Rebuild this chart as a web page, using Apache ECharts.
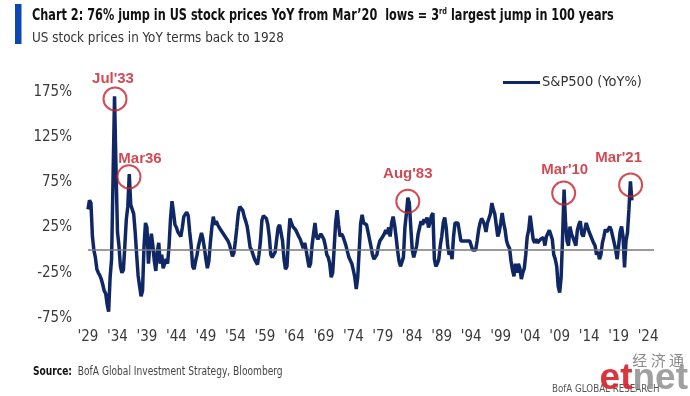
<!DOCTYPE html>
<html>
<head>
<meta charset="utf-8">
<script src="https://cdn.jsdelivr.net/npm/echarts@6/dist/echarts.min.js"></script>
<style>
html,body{margin:0;padding:0;background:#fff;}
#chart{width:690px;height:396px;}
</style>
</head>
<body>
<div id="chart"></div>
<script>
// ---- data ----
const seriesName = 'S&P500 (YoY%)';
const startYear = 1929;      // first observation
const stepYears = 0.25;      // quarterly observations
const yoyValues = [
  45, 55, 52, 15,      // 1929
  0, -8, -21, -25,     // 1930
  -28, -32, -38, -45,  // 1931
  -48, -60, -68, -30,  // 1932
  -10, 80, 170, 90,    // 1933
  20, 5, -18, -25,     // 1934
  -22, 5, 34, 48,      // 1935
  84, 50, 45, 40,      // 1936
  20, -5, -28, -40,    // 1937
  -51, -45, 4, 30,     // 1938
  25, -15, 5, 18,      // 1939
  5, -12, -23, -2,     // 1940
  8, -15, -5, -20,     // 1941
  -18, -10, -15, 5,    // 1942
  35, 54, 42, 28,      // 1943
  25, 20, 18, 15,      // 1944
  25, 37, 35, 42,      // 1945
  38, 20, 5, -18,      // 1946
  -21, -12, -5, 5,     // 1947
  12, 19, 12, 2,       // 1948
  -10, -20, -12, 8,    // 1949
  25, 37, 28, 32,      // 1950
  28, 25, 24, 20,      // 1951
  18, 15, 17, 10,      // 1952
  6, 0, -7, -3,        // 1953
  10, 25, 41, 48,      // 1954
  50, 44, 37, 32,      // 1955
  26, 15, 3, 0,        // 1956
  -5, -10, -8, -16,    // 1957
  -5, 10, 33, 38,      // 1958
  40, 35, 28, 15,      // 1959
  -5, -8, -10, -2,     // 1960
  12, 25, 28, 30,      // 1961
  10, -10, -21, -18,   // 1962
  12, 35, 30, 26,      // 1963
  25, 22, 20, 15,      // 1964
  12, 10, 2, 8,        // 1965
  0, -10, -19, -15,    // 1966
  5, 18, 30, 15,       // 1967
  12, 10, 18, 15,      // 1968
  12, 5, -5, -8,       // 1969
  -15, -30, -25, 2,    // 1970
  30, 44, 28, 15,      // 1971
  18, 15, 10, 5,       // 1972
  4, -8, -10, -15,     // 1973
  -22, -30, -43, -30,  // 1974
  0, 30, 39, 30,       // 1975
  32, 28, 26, 12,      // 1976
  4, -5, -10, -8,      // 1977
  -5, 4, 10, 12,       // 1978
  15, 18, 22, 18,      // 1979
  25, 15, 30, 37,      // 1980
  28, 15, 0, -12,      // 1981
  -18, -20, -8, 25,    // 1982
  40, 58, 52, 25,      // 1983
  0, -8, -10, 5,       // 1984
  18, 25, 32, 28,      // 1985
  34, 30, 36, 25,      // 1986
  30, 38, 41, -10,     // 1987
  -18, -15, -10, 5,    // 1988
  15, 30, 36, 25,      // 1989
  5, -5, 0, -10,       // 1990
  15, 30, 28, 30,      // 1991
  20, 10, 8, 10,       // 1992
  12, 10, 10, 10,      // 1993
  5, 0, -2, 0,         // 1994
  10, 22, 30, 35,      // 1995
  32, 28, 20, 30,      // 1996
  35, 40, 52, 45,      // 1997
  40, 38, 15, 20,      // 1998
  30, 41, 30, 22,      // 1999
  10, 5, 2, -12,       // 2000
  -22, -29, -15, -25,  // 2001
  -15, -20, -32, -25,  // 2002
  -20, -5, 15, 22,     // 2003
  38, 25, 12, 8,       // 2004
  12, 8, 10, 12,       // 2005
  10, 14, 5, 15,       // 2006
  15, 22, 20, 12,      // 2007
  -5, -10, -18, -40,   // 2008
  -47, -30, 15, 67,    // 2009
  30, 10, 5, 26,       // 2010
  18, 14, 12, 5,       // 2011
  22, 28, 32, 18,      // 2012
  15, 22, 30, 25,      // 2013
  20, 18, 12, 8,       // 2014
  5, -5, -2, -10,      // 2015
  -5, 8, 15, 23,       // 2016
  20, 18, 26, 22,      // 2017
  15, 8, 0, -10,       // 2018
  5, 20, 26, 15,       // 2019
  -19, 10, 19, 45,     // 2020
  76, 55               // 2021
];
const xTickYears = [1929,1934,1939,1944,1949,1954,1959,1964,1969,1974,1979,1984,1989,1994,1999,2004,2009,2014,2019,2024];
const yTickValues = [-75, -25, 25, 75, 125, 175];
const annoLabels = ["Jul'33", "Mar36", "Aug'83", "Mar'10", "Mar'21"];
const annoYears  = [1933.58, 1935.95, 1983.24, 2009.68, 2021.03];
const annoValues = [167, 81, 54, 63, 72];

// ---- presentation ----
const COND = "'DejaVu Sans Condensed',sans-serif";
const ARIAL = "'Liberation Sans',Arial,sans-serif";
const annoOffsets = [[-2,-20],[11,-18],[0,-27],[1,-23],[-12,-27]];
const lineData = yoyValues.map((v, i) => [startYear + i * stepYears, v]);
const annoData = annoLabels.map((t, i) => ({
  value: [annoYears[i], annoValues[i]],
  name: t,
  label: { offset: annoOffsets[i] }
}));

const chart = echarts.init(document.getElementById('chart'), null, { renderer: 'canvas' });
chart.setOption({
  animation: false,
  backgroundColor: '#fff',
  grid: { left: 88, right: 36, top: 91.7, bottom: 78 },
  legend: {
    data: [seriesName],
    left: 498, top: 70,
    icon: 'rect', itemWidth: 37, itemHeight: 3,
    textStyle: { fontFamily: COND, fontSize: 14.5, color: '#333', padding: [0,0,0,-3] }
  },
  xAxis: {
    type: 'value', min: 1929, max: 2025,
    axisLine: { show: false }, axisTick: { show: false }, splitLine: { show: false },
    axisLabel: {
      customValues: xTickYears,
      formatter: v => "'" + String(Math.round(v)).slice(2),
      fontFamily: COND, fontSize: 15, color: '#3a3a3a', margin: 12
    }
  },
  yAxis: {
    type: 'value', min: -75, max: 175,
    axisLine: { show: false }, axisTick: { show: false }, splitLine: { show: false },
    axisLabel: {
      customValues: yTickValues,
      formatter: '{value}%',
      fontFamily: COND, fontSize: 15, color: '#3a3a3a', margin: 16
    }
  },
  series: [
    {
      name: seriesName, type: 'line', data: lineData,
      showSymbol: false, symbol: 'none',
      lineStyle: { color: '#0f2765', width: 3.5 },
      itemStyle: { color: '#0f2765' },
      z: 3,
      markLine: {
        silent: true, symbol: 'none', label: { show: false },
        lineStyle: { color: '#7a7a7a', width: 1.5, type: 'solid' },
        data: [{ yAxis: 0 }]
      }
    },
    {
      name: 'annotations', type: 'scatter', data: annoData,
      symbol: 'circle', symbolSize: 23, z: 5,
      itemStyle: { color: 'rgba(0,0,0,0)', borderColor: '#c81e2a', borderWidth: 2 },
      label: {
        show: true, position: 'inside', formatter: p => p.name,
        fontFamily: ARIAL, fontWeight: 'bold', fontSize: 15, color: '#c41c28'
      }
    }
  ],
  graphic: [
    { type: 'rect', shape: { x: 15, y: 4, width: 6.5, height: 40 }, style: { fill: '#0b48b4' } },
    { type: 'text', x: 32, y: 16, scaleX: 0.81, style: {
        x: 0, y: 0, textVerticalAlign: 'middle',
        text: "{b|Chart 2: 76% jump in US stock prices YoY from Mar\u201920  lows = 3}{s|rd}{b| largest jump in 100 years}",
        rich: {
          b: { fontFamily: COND, fontWeight: 'bold', fontSize: 15.5, fill: '#111' },
          s: { fontFamily: COND, fontWeight: 'bold', fontSize: 9, fill: '#111', verticalAlign: 'top', padding: [0,0,8,0] }
        }
    } },
    { type: 'text', x: 32, y: 38, scaleX: 0.92, style: {
        x: 0, y: 0, textVerticalAlign: 'middle',
        text: 'US stock prices in YoY terms back to 1928',
        font: "14.5px 'DejaVu Sans Condensed',sans-serif", fill: '#333'
    } },
    { type: 'text', x: 33, y: 372, scaleX: 0.88, style: {
        x: 0, y: 0, textVerticalAlign: 'middle',
        text: '{b|Source:}{r|  BofA Global Investment Strategy, Bloomberg}',
        rich: {
          b: { fontFamily: COND, fontWeight: 'bold', fontSize: 11.5, fill: '#111' },
          r: { fontFamily: COND, fontSize: 11.5, fill: '#444' }
        }
    } },
    { type: 'text', x: 552, y: 389, scaleX: 0.88, style: {
        x: 0, y: 0, textVerticalAlign: 'middle',
        text: 'BofA GLOBAL RESEARCH',
        font: "11px 'DejaVu Sans Condensed',sans-serif", fill: '#555'
    } },
    { type: 'text', style: {
        x: 684, y: 360, textAlign: 'right', textVerticalAlign: 'middle',
        text: '经 济 通',
        font: "15px 'Noto Sans CJK SC',sans-serif", fill: '#8a8a8a'
    } },
    { type: 'text', style: {
        x: 688, y: 397, textAlign: 'right', textVerticalAlign: 'bottom',
        text: '{r|et}{g|net}',
        rich: {
          r: { fontFamily: ARIAL, fontWeight: 'bold', fontSize: 37, fill: 'rgba(214,36,44,0.92)' },
          g: { fontFamily: ARIAL, fontWeight: 'bold', fontSize: 37, fill: 'rgba(150,150,150,0.9)' }
        }
    } }
  ]
});
</script>
</body>
</html>
